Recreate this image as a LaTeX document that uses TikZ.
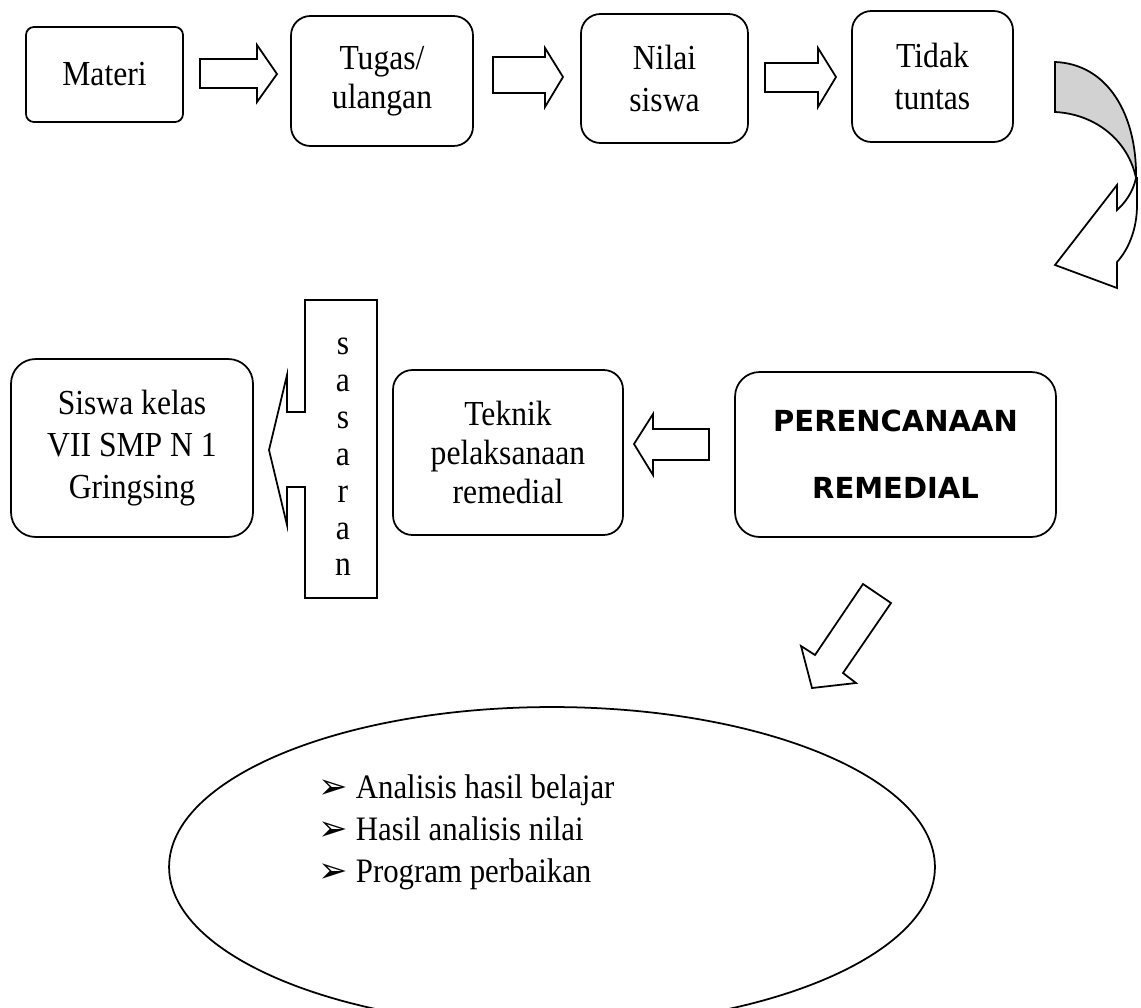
\documentclass[tikz,border=0pt]{standalone}
\usepackage{fontspec}
\setmainfont{Liberation Serif}[FakeStretch=0.9]
\newfontfamily\judulfont{DejaVu Sans}
\newfontfamily\simbolfont{DejaVu Sans}
\usetikzlibrary{shapes.geometric}
\newcommand{\butir}{\makebox[0.74cm][l]{\simbolfont\fontsize{20}{20}\selectfont ➢}}
\begin{document}
\begin{tikzpicture}[x=0.02cm, y=-0.02cm, line width=1pt,
          kotak/.style={draw, rounded corners=11pt, align=center, inner sep=0pt, font=\fontsize{20}{22}\selectfont},
          panah/.style={draw, fill=white}]
        \useasboundingbox (0,0) rectangle (1141,1007);
        \clip (0,0) rectangle (1141,1007);
        \node[kotak, rounded corners=4.5pt, minimum width=3.14cm, minimum height=1.9cm] (materi) at (104.5,74.5) {Materi};
        \node[kotak, minimum width=3.64cm, minimum height=2.6cm] (tugas) at (382,81) {Tugas/\\ulangan};
        \node[kotak, minimum width=3.34cm, minimum height=2.58cm, font=\fontsize{20}{24}\selectfont] (nilai) at (664.5,78.5) {Nilai\\siswa};
        \node[kotak, minimum width=3.22cm, minimum height=2.62cm, font=\fontsize{20}{24}\selectfont] (tidak) at (932.5,76.5) {Tidak\\tuntas};
        \node[kotak, rounded corners=14pt, minimum width=4.84cm, minimum height=3.56cm, font=\fontsize{20}{24}\selectfont] (siswa) at (132,448) {Siswa kelas\\VII SMP N 1\\Gringsing};
        \node[kotak, minimum width=4.6cm, minimum height=3.3cm] (teknik) at (508,452.5) {Teknik\\pelaksanaan\\remedial};
        \node[kotak, rounded corners=14pt, minimum width=6.42cm, minimum height=3.3cm, font=\judulfont\bfseries\fontsize{16.5}{38}\selectfont] (rencana) at (895.5,454.5) {PERENCANAAN\\REMEDIAL};
        \draw[panah] (200,59) -- (257,59) -- (257,45) -- (277,74) -- (257,102) -- (257,88) -- (200,88) -- cycle;
        \draw[panah] (493,57) -- (545,57) -- (545,48) -- (563,77) -- (545,107) -- (545,93) -- (493,93) -- cycle;
        \draw[panah] (765,63) -- (818,63) -- (818,48) -- (836,77) -- (818,107) -- (818,92) -- (765,92) -- cycle;
        \draw[fill=gray!35] (1055,62) .. controls (1108,64) and (1137,115) .. (1136,178) .. controls (1128,140) and (1095,114) .. (1055,112) -- cycle;
        \draw[panah] (1136,178) .. controls (1133,192) and (1125,203) .. (1117,210) -- (1117,185) -- (1055,265) -- (1117,288) -- (1117,262) .. controls (1128,250) and (1137,230) .. (1137,205) -- (1137,178) -- cycle;
        \draw[panah] (634,444) -- (653,414) -- (653,429) -- (709,429) -- (709,460) -- (653,460) -- (653,475) -- cycle;
        \draw[panah] (305,300) -- (377,300) -- (377,598) -- (305,598) -- (305,487) -- (287,487) -- (287,525) -- (269,450) -- (287,375) -- (287,412) -- (305,412) -- cycle;
        \node[align=center, inner sep=0pt, font=\fontsize{20}{21}\selectfont] (sasaran) at (343,457) {s\\a\\s\\a\\r\\a\\n};
        \draw[panah] (863,584) -- (891,603) -- (843,673) -- (856,683) -- (812,688) -- (801,646) -- (815,655) -- cycle;
        \node[draw, ellipse, inner sep=0pt, minimum width=15.32cm, minimum height=6.4cm] (hasil) at (552,867) {};
        \node[anchor=west, align=left, inner sep=0pt, font=\fontsize{19.5}{24}\selectfont] (daftar) at (318,832) {\butir Analisis hasil belajar\\\butir Hasil analisis nilai\\\butir Program perbaikan};
\end{tikzpicture}
\end{document}
